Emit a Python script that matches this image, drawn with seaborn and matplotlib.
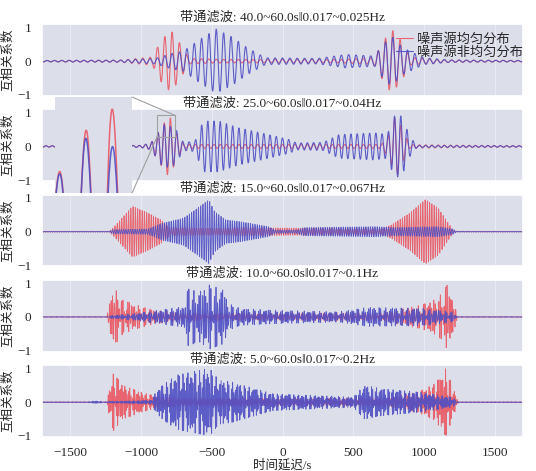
import numpy as np
import pandas as pd
import matplotlib
matplotlib.use("Agg")
import matplotlib.pyplot as plt
from matplotlib.patches import Rectangle, ConnectionPatch
import seaborn as sns

# panel titles and dominant period (s) of each band
titles = ["带通滤波: 40.0~60.0s‖0.017~0.025Hz",
          "带通滤波: 25.0~60.0s‖0.017~0.04Hz",
          "带通滤波: 15.0~60.0s‖0.017~0.067Hz",
          "带通滤波: 10.0~60.0s‖0.017~0.1Hz",
          "带通滤波: 5.0~60.0s‖0.017~0.2Hz"]
periods = [52, 44, 16, 12, 9]
labels = ["噪声源均匀分布", "噪声源非均匀分布"]

# envelope knots (time lag s, peak amplitude)
red_t = [
    [-1700, -1150, -920, -860, -790, -720, -660, -400, 400, 650, 700, 770, 840, 900, 1100, 1700],
    [-1700, -1000, -930, -860, -800, -750, -700, 700, 760, 800, 850, 900, 1700],
    [-1700, -1225, -1200, -1060, -950, -860, -800, -400, -300, 700, 770, 900, 1010, 1100, 1205, 1230, 1700],
    [-1700, -1240, -1225, -1188, -1130, -1030, -910, -700, 700, 980, 1100, 1165, 1215, 1235, 1700],
    [-1700, -1240, -1225, -1195, -1130, -1000, -900, -700, 700, 960, 1080, 1155, 1200, 1225, 1240, 1700],
]
red_a = [
    [0.02, 0.03, 0.12, 0.6, 0.92, 0.5, 0.08, 0.05, 0.05, 0.1, 0.5, 0.95, 0.6, 0.12, 0.04, 0.02],
    [0.02, 0.03, 0.1, 0.55, 0.92, 0.4, 0.06, 0.06, 0.4, 0.95, 0.5, 0.05, 0.02],
    [0.01, 0.01, 0.1, 0.75, 0.55, 0.35, 0.12, 0.1, 0.12, 0.08, 0.2, 0.55, 0.95, 0.7, 0.05, 0.01, 0.01],
    [0.01, 0.01, 0.5, 0.85, 0.5, 0.35, 0.2, 0.12, 0.12, 0.35, 0.55, 0.95, 0.4, 0.01, 0.01],
    [0.01, 0.01, 0.4, 0.85, 0.5, 0.3, 0.18, 0.12, 0.12, 0.3, 0.55, 1.0, 0.5, 0.2, 0.01, 0.01],
]
blue_t = [
    [-1700, -1150, -900, -790, -700, -600, -470, -350, -250, -120, 250, 450, 650, 700, 770, 850, 1000, 1200, 1700],
    [-1700, -1000, -930, -840, -760, -700, -620, -560, -450, -311, -150, 50, 100, 290, 400, 650, 740, 790, 840, 900, 950, 1700],
    [-1700, -1225, -1200, -950, -850, -700, -600, -520, -480, -400, -300, -100, -50, 100, 150, 650, 800, 1100, 1205, 1230, 1700],
    [-1700, -1240, -1225, -1050, -700, -664, -600, -515, -420, -383, -300, -70, 400, 600, 1000, 1200, 1235, 1700],
    [-1700, -1380, -1320, -1260, -1240, -930, -880, -750, -515, -450, -360, -70, 500, 580, 700, 960, 1200, 1240, 1700],
]
blue_a = [
    [0.02, 0.03, 0.08, 0.22, 0.3, 0.6, 0.95, 0.7, 0.4, 0.1, 0.08, 0.2, 0.15, 0.45, 0.75, 0.4, 0.1, 0.03, 0.02],
    [0.02, 0.03, 0.1, 0.65, 0.55, 0.12, 0.15, 0.75, 0.75, 0.55, 0.4, 0.2, 0.1, 0.12, 0.35, 0.4, 0.35, 0.9, 0.9, 0.3, 0.03, 0.02],
    [0.01, 0.01, 0.06, 0.08, 0.25, 0.4, 0.7, 0.95, 0.6, 0.35, 0.3, 0.15, 0.05, 0.05, 0.12, 0.15, 0.12, 0.15, 0.08, 0.01, 0.01],
    [0.01, 0.01, 0.04, 0.1, 0.3, 0.9, 0.7, 0.95, 0.8, 0.4, 0.25, 0.2, 0.15, 0.28, 0.25, 0.15, 0.01, 0.01],
    [0.01, 0.01, 0.04, 0.01, 0.02, 0.06, 0.4, 0.8, 1.0, 0.65, 0.6, 0.25, 0.15, 0.5, 0.4, 0.3, 0.15, 0.01, 0.01],
]

RED = "#e8646e"
BLUE = "#4f4fc4"
FACE = "#dcdeea"

lag = np.arange(-1700, 1701, 1.0)


def waveform(i, knots_t, knots_a, phase):
    env = np.interp(lag, knots_t, knots_a)
    w = 2 * np.pi / periods[i]
    if i < 3:
        carrier = np.cos(w * lag + phase)
    else:
        # broadband bands: mix a few nearby periods so the trace looks ragged
        carrier = (np.cos(w * lag + phase) + 0.7 * np.cos(1.31 * w * lag + 1.3 + phase)
                   + 0.5 * np.cos(0.77 * w * lag + 2.1 - phase)) / 1.6
        carrier = np.clip(carrier, -1, 1)
    return env * carrier


sns.set_theme(style="darkgrid", rc={"axes.facecolor": FACE, "grid.color": "white",
                                    "grid.linewidth": 0.5, "grid.alpha": 0.6,
                                    "figure.facecolor": "white"})
plt.rcParams["font.family"] = ["Liberation Serif", "Noto Sans CJK SC", "DejaVu Sans"]

fig, axes = plt.subplots(5, 1, figsize=(5.36, 4.71), dpi=100, sharex=True)
fig.subplots_adjust(left=42 / 536, right=523 / 536, top=1 - 24 / 471, bottom=1 - 437 / 471,
                    hspace=0.185)

for i, ax in enumerate(axes):
    df = pd.DataFrame({"lag": lag,
                       "red": waveform(i, red_t[i], red_a[i], 0.0),
                       "blue": waveform(i, blue_t[i], blue_a[i], 0.0 if i < 2 else 0.9)})
    lw = 0.8 if i < 2 else 0.6
    sns.lineplot(data=df, x="lag", y="red", ax=ax, color=RED, linewidth=lw,
                 label=labels[0] if i == 0 else None, legend=False)
    sns.lineplot(data=df, x="lag", y="blue", ax=ax, color=BLUE, linewidth=lw, alpha=0.9,
                 label=labels[1] if i == 0 else None, legend=False)
    ax.set_xlim(-1700, 1700)
    ax.set_ylim(-1.03, 1.1)
    ax.set_yticks([-1, 0, 1])
    ax.set_yticklabels(["−1", "0", "1"])
    ax.grid(axis="y", visible=False)
    ax.set_xticks([-1500, -1000, -500, 0, 500, 1000, 1500])
    ax.tick_params(axis="both", labelsize=9.5, pad=1.5)
    ax.set_title(titles[i], fontsize=9.5, pad=2)
    ax.set_ylabel("互相关系数", fontsize=9, labelpad=2)
    ax.set_xlabel("")
    if i == 1:
        df2 = df
axes[-1].set_xticklabels(["−1500", "−1000", "−500", "0", "500", "1000", "1500"])
axes[-1].set_xlabel("时间延迟/s", fontsize=9, labelpad=0)

axes[0].legend(loc="upper right", bbox_to_anchor=(1.02, 1.0), frameon=False, fontsize=9.5,
               handlelength=1.3, handletextpad=0.3, labelspacing=0.0, borderaxespad=0.3)

# zoomed inset on the first arrival in the second band
ax2 = axes[1]
x0, x1, y0, y1 = -887, -760, 0.28, 0.92
ins_rect = [55 / 536, 1 - 193 / 471, 77 / 536, 96 / 471]
axins = fig.add_axes(ins_rect, zorder=10)
axins.set_facecolor(FACE)
axins.plot(df2["lag"], df2["red"], color=RED, linewidth=1.1)
axins.plot(df2["lag"], df2["blue"], color=BLUE, linewidth=1.1, alpha=0.9)
axins.set_xlim(x0, x1)
axins.set_ylim(y0, y1)
axins.set_xticks([])
axins.set_yticks([])
axins.grid(False)
for s in axins.spines.values():
    s.set_visible(False)
ax2.add_patch(Rectangle((x0, y0), x1 - x0, y1 - y0, fill=False, edgecolor="#a0a0a0",
                        linewidth=0.8, zorder=5))
for ins_xy, data_xy in [((1, 1), (x1, y1)), ((1, 0), (x0, y0))]:
    cp = ConnectionPatch(xyA=ins_xy, coordsA=axins.transAxes, xyB=data_xy, coordsB=ax2.transData,
                         color="#a0a0a0", linewidth=0.8, zorder=11)
    fig.add_artist(cp)

fig.savefig("out.png", dpi=100)
